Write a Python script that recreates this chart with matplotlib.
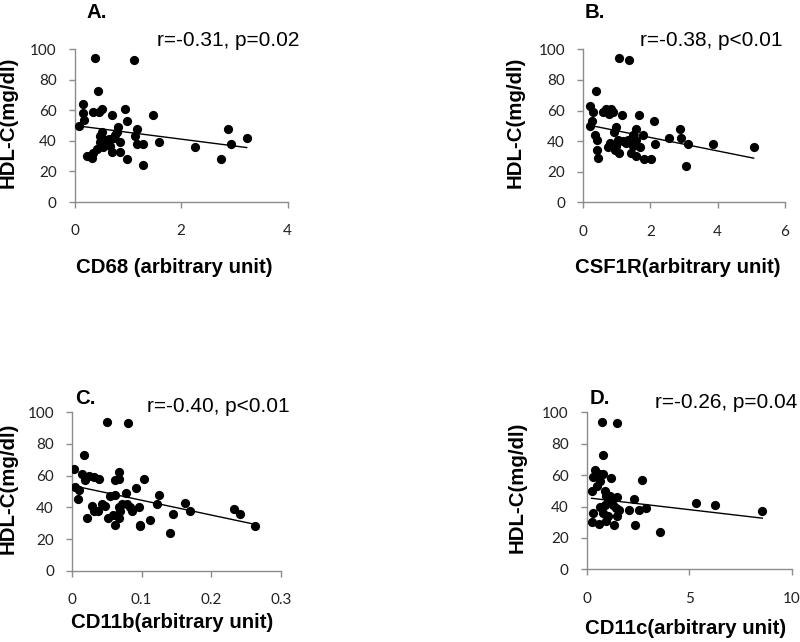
import numpy as np
import matplotlib
matplotlib.use("Agg")
import matplotlib.pyplot as plt

# HDL-C vs macrophage markers
cd68_x = [0.38, 1.11, 0.43, 0.16, 0.16, 0.18, 0.09, 0.35, 0.45, 0.51, 0.70, 0.95, 0.98,
          1.47, 1.17, 0.82, 0.79, 0.51, 0.47, 0.54, 0.64, 0.73, 1.14, 0.48, 0.60, 0.86,
          1.17, 1.28, 1.58, 0.42, 0.54, 0.70, 0.86, 0.35, 0.23, 0.33, 0.98, 1.28, 2.26,
          2.87, 2.94, 2.74, 3.23, 0.76, 0.67]
cd68_y = [94, 93, 73, 64, 58, 54, 50, 59, 59, 61, 57, 61, 53,
          57, 48, 49, 46, 46, 43, 41, 41, 42, 43, 39, 39, 39,
          38, 38, 39, 35, 36, 33, 33, 32, 30, 29, 28, 24, 36,
          48, 38, 28, 42, 44, 37]

csf1r_x = [1.08, 1.36, 0.39, 0.20, 0.30, 0.28, 0.20, 0.37, 0.42, 0.42, 0.44, 0.59, 0.69,
           0.84, 0.89, 0.77, 1.16, 1.67, 2.12, 0.99, 0.91, 1.58, 1.48, 1.77, 1.05, 1.18,
           1.33, 1.58, 0.79, 0.99, 1.28, 1.48, 1.69, 0.74, 0.94, 1.08, 1.43, 1.58, 1.82,
           2.02, 2.15, 2.56, 2.89, 2.91, 3.12, 3.05, 3.86, 5.07]
csf1r_y = [94, 93, 73, 63, 59, 53, 50, 44, 41, 34, 29, 59, 61,
           61, 59, 58, 57, 57, 53, 49, 46, 48, 44, 44, 41, 40,
           41, 41, 39, 37, 39, 37, 36, 36, 34, 32, 32, 30, 28,
           28, 38, 42, 48, 42, 38, 24, 38, 36]

cd11b_x = [0.050, 0.081, 0.017, 0.003, 0.004, 0.010, 0.009, 0.015, 0.024, 0.019, 0.031,
           0.039, 0.062, 0.067, 0.068, 0.104, 0.092, 0.078, 0.062, 0.055, 0.125, 0.028,
           0.031, 0.038, 0.043, 0.048, 0.067, 0.072, 0.079, 0.069, 0.086, 0.096, 0.083,
           0.122, 0.021, 0.052, 0.059, 0.067, 0.062, 0.098, 0.097, 0.112, 0.140, 0.145,
           0.162, 0.170, 0.232, 0.241, 0.262]
cd11b_y = [94, 93, 73, 64, 53, 51, 45, 61, 60, 57, 59,
           58, 57, 58, 62, 58, 52, 49, 48, 47, 48, 41,
           38, 38, 42, 41, 40, 42, 42, 38, 38, 40, 40,
           42, 33, 33, 35, 33, 29, 29, 28, 32, 24, 36,
           43, 38, 39, 36, 28]

cd11c_x = [0.75, 1.49, 0.80, 0.40, 0.32, 0.64, 0.80, 1.20, 0.27, 0.48, 0.67, 0.88, 0.96,
           1.49, 2.72, 2.32, 1.04, 1.20, 0.64, 0.88, 1.28, 1.44, 1.57, 2.08, 2.53, 2.88,
           0.32, 0.80, 1.04, 1.47, 0.24, 0.59, 0.96, 1.31, 2.34, 3.57, 5.34, 6.25, 8.57,
           1.12]
cd11c_y = [94, 93, 73, 63, 59, 61, 61, 58, 50, 53, 56, 50, 47,
           46, 57, 45, 45, 44, 40, 41, 41, 39, 38, 38, 38, 39,
           36, 36, 34, 34, 30, 29, 31, 28, 28, 24, 42, 41, 37,
           47]

# trend lines (slope, intercept) as drawn in the figure
fits = [(-4.47, 50.1), (-4.41, 51.2), (-93.4, 53.8), (-1.52, 45.6)]

panel_letters = ["A.", "B.", "C.", "D."]
stats_text = ["r=-0.31, p=0.02", "r=-0.38, p<0.01", "r=-0.40, p<0.01", "r=-0.26, p=0.04"]
x_labels = ["CD68 (arbitrary unit)", "CSF1R(arbitrary unit)",
            "CD11b(arbitrary unit)", "CD11c(arbitrary unit)"]
x_ticks = [[0, 2, 4], [0, 2, 4, 6], [0, 0.1, 0.2, 0.3], [0, 5, 10]]
x_tick_labels = [["0", "2", "4"], ["0", "2", "4", "6"],
                 ["0", "0.1", "0.2", "0.3"], ["0", "5", "10"]]
y_ticks = [0, 20, 40, 60, 80, 100]

xs = [cd68_x, csf1r_x, cd11b_x, cd11c_x]
ys = [cd68_y, csf1r_y, cd11b_y, cd11c_y]

W, H = 800, 642
fig = plt.figure(figsize=(W / 100, H / 100), dpi=100)

# axes boxes in pixels: left, bottom(from top), right, top(from top)
boxes = [(74.7, 202, 287.7, 49.3), (583, 202.3, 785, 49.3),
         (72, 570.7, 281, 412.3), (586.7, 569.3, 791.7, 412.3)]
letter_pos = [(86, 12), (585, 12), (75, 398), (590, 398)]
stat_pos = [(157, 40), (640, 40), (147, 406), (655, 403)]
xlab_gap = [56, 56, 42, 50]      # px from axis to top of x label
ylab_gap = [57, 58, 54, 60]      # px from axis to right edge of y label
xlab_center = [0.466, 0.47, 0.48, 0.484]

tick_font = "Lato"
label_font = ["Liberation Sans", "DejaVu Sans"]
big = 14.7

for i in range(4):
    l, b, r, t = boxes[i]
    ax = fig.add_axes([l / W, (H - b) / H, (r - l) / W, (b - t) / H])
    ax.scatter(xs[i], ys[i], s=44, color="black", zorder=3, linewidths=0)
    slope, icpt = fits[i]
    xl = np.array([min(xs[i]), max(xs[i])])
    ax.plot(xl, slope * xl + icpt, color="black", lw=1.0, zorder=2)

    ax.set_xlim(x_ticks[i][0], x_ticks[i][-1])
    ax.set_ylim(0, 100)
    ax.set_xticks(x_ticks[i])
    ax.set_xticklabels(x_tick_labels[i], fontfamily=tick_font, fontsize=11, color="#222222")
    ax.set_yticks(y_ticks)
    ax.set_yticklabels([str(v) for v in y_ticks], fontfamily=tick_font, fontsize=11,
                       color="#222222")
    for side in ["top", "right"]:
        ax.spines[side].set_visible(False)
    for side in ["left", "bottom"]:
        ax.spines[side].set_color("#8c8c8c")
        ax.spines[side].set_linewidth(1.0)
    ax.tick_params(axis="both", direction="out", length=4, color="#8c8c8c", width=1.0)
    ax.tick_params(axis="x", pad=12)
    ax.tick_params(axis="y", pad=9)
    ax.patch.set_alpha(0)

    ax.set_xlabel(x_labels[i], fontfamily=label_font, fontweight="bold", fontsize=big)
    ax.set_ylabel("HDL-C(mg/dl)", fontfamily=label_font, fontweight="bold", fontsize=big)
    ax.xaxis.set_label_coords(xlab_center[i], -xlab_gap[i] / (b - t))
    ax.yaxis.set_label_coords(-ylab_gap[i] / (r - l), 0.52)

    fig.text(letter_pos[i][0] / W, 1 - letter_pos[i][1] / H, panel_letters[i],
             fontfamily=label_font, fontweight="bold", fontsize=big, va="center", ha="left")
    fig.text(stat_pos[i][0] / W, 1 - stat_pos[i][1] / H, stats_text[i],
             fontfamily=label_font, fontsize=15, va="center", ha="left")

fig.savefig("out.png", dpi=100, facecolor="white")
